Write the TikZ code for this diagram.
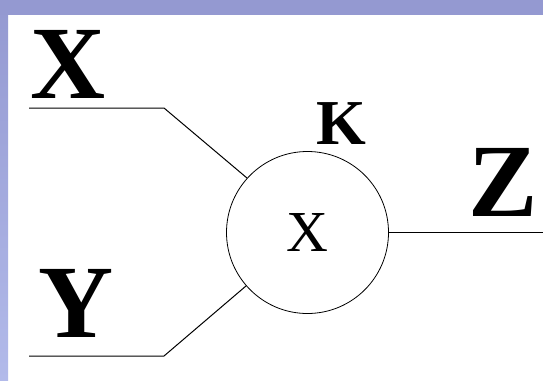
\documentclass[tikz,border=0pt]{standalone}
\usepackage{fontspec}
\setmainfont{Liberation Serif}
\usetikzlibrary{positioning}
\definecolor{xband}{RGB}{148,153,209}
\definecolor{xbandlight}{RGB}{178,186,234}

\begin{document}
\begin{tikzpicture}[x=1pt, y=-1pt,
  letter/.style={font=\fontsize{104}{110}\selectfont\bfseries, inner sep=0pt},
  gain/.style={font=\fontsize{64}{70}\selectfont\bfseries, inner sep=0pt},
  unit/.style={draw, circle, line width=0.8pt, minimum size=162pt, inner sep=0pt,
               font=\fontsize{58}{60}\selectfont},
  wire/.style={line width=1pt}
]
  % frame
  \fill[white] (0,0) rectangle (543,380);
  \useasboundingbox (0,0) rectangle (543,380);
  \shade[top color=xband, bottom color=xbandlight] (0,0) rectangle (8,380);
  \fill[xband] (0,0) rectangle (543,15);

  \node[unit]   (mult) at (307.5,232.5) {X};
  \node[letter] (xlab) at (68.5,64)     {X};
  \node[letter] (ylab) at (76,303.5)    {Y};
  \node[letter] (zlab) at (503.5,182.5) {Z};
  \node[gain]   (klab) at (341.5,123.5) {K};

  \coordinate (xin)   at (29,108);
  \coordinate (xbend) at (164,108);
  \coordinate (yin)   at (29,356);
  \coordinate (ybend) at (164,356);
  \coordinate (zout)  at (543,232.5);

  \draw[wire] (xin) -- (xbend) -- (mult.138.5);
  \draw[wire] (yin) -- (ybend) -- (mult.221);
  \draw[wire] (mult.east) -- (zout);
\end{tikzpicture}
\end{document}
